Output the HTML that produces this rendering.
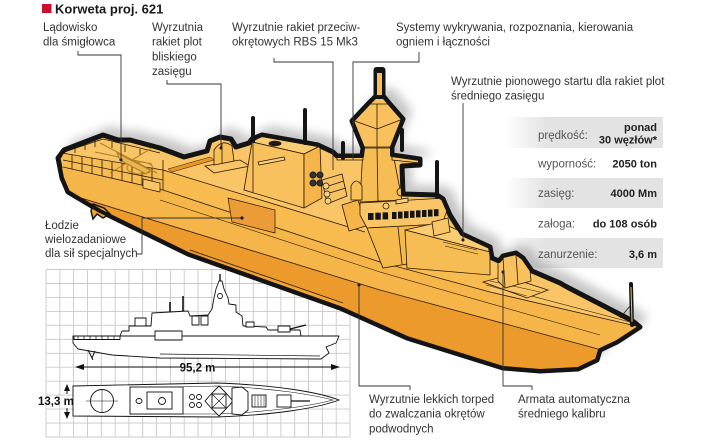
<!DOCTYPE html>
<html><head><meta charset="utf-8">
<style>
html,body{margin:0;padding:0;background:#fff;width:720px;height:445px;overflow:hidden}
svg{display:block}
</style></head>
<body>
<svg width="720" height="445" viewBox="0 0 720 445" xmlns="http://www.w3.org/2000/svg" font-family="'Liberation Sans', Arial, sans-serif">
<defs>
  <clipPath id="shipclip">
    <path id="silh" d="M58,158 L64,150 L103,135 L118,140 L130,140 L160,148 L184,157 L207,151 L210,141 L220,137 L231,139 L236,147 L249,143 L252,139 L262,135 L318,145 L333,152 L337,156 L362,156 L363,148 L352,121 L369,103 L375,97 L384,97 L389,103 L403,119 L392,147 L392,155 L420,159 L420,165 L402,166 L403,194 L437,195 L443,199 L450,215 L462,234 L490,247 L492,258 L499,261 L503,256 L516,253 L523,258 L532,271 L560,283 L567,287 L627,318 L634,322 L640,327 L617,342 L600,350 L597,360 L578,369 L540,371 L503,368 L407,338 L340,308 L188,254 L100,211 L68,192 L62,178 Z"/>
  </clipPath>
  <filter id="blur" x="-20%" y="-20%" width="140%" height="140%"><feGaussianBlur stdDeviation="5"/></filter>
  <linearGradient id="rg" gradientUnits="userSpaceOnUse" x1="506" y1="0" x2="546" y2="0">
    <stop offset="0" stop-color="#e3e3e3" stop-opacity="0"/>
    <stop offset="1" stop-color="#e3e3e3"/>
  </linearGradient>
</defs>

<rect width="720" height="445" fill="#fff"/>

<!-- Title -->
<rect x="42" y="4" width="9.5" height="9" fill="#c8102e"/>
<text x="55" y="13.5" font-size="13" font-weight="bold" fill="#1a1a1a">Korweta proj. 621</text>

<!-- Grid -->
<path fill="none" stroke="#c9c9c9" stroke-width="0.9" d="M46,269.5V437 M59.8,269.5V437 M73.6,269.5V437 M87.5,269.5V437 M101.3,269.5V437 M115.1,269.5V437 M128.9,269.5V437 M142.7,269.5V437 M156.5,269.5V437 M170.4,269.5V437 M184.2,269.5V437 M198,269.5V437 M211.8,269.5V437 M225.6,269.5V437 M239.5,269.5V437 M253.3,269.5V437 M267.1,269.5V437 M280.9,269.5V437 M294.7,269.5V437 M308.5,269.5V437 M322.4,269.5V437 M336.2,269.5V437 M350,269.5V437 M46,269.5H350 M46,283.5H350 M46,297.4H350 M46,311.4H350 M46,325.3H350 M46,339.3H350 M46,353.3H350 M46,367.2H350 M46,381.2H350 M46,395.1H350 M46,409.1H350 M46,423.1H350 M46,437H350"/>

<!-- Side view schematic -->
<g fill="#fff" stroke="#111" stroke-width="0.9" stroke-linejoin="round">
  <path d="M73,336 L339,336 L336,343 L326,347 L329,353 L321,359 L160,358 L112,355 L78,349 L73,343 Z"/>
  <path d="M120,336 L122,331 L129,331 L129,326 L151,326 L152,313 L188,311 L190,316 L208,315 L212,309 L214,298 L216,289 L219,281 L222,281 L224,289 L228,298 L229,304 L236,305 L236,312 L242,316 L243,326 L266,327 L268,330 L300,330 L301,336 Z"/>
  <rect x="74" y="336" width="46" height="3.5"/>
  <rect x="155" y="331" width="27" height="9"/>
  <rect x="135" y="318" width="11" height="8"/>
  <rect x="192" y="316" width="7" height="9"/>
  <rect x="201" y="316" width="7" height="9"/>
  <rect x="246" y="322" width="8" height="5"/>
  <rect x="278" y="326" width="12" height="6"/>
  <circle cx="220" cy="296" r="2.5"/>
</g>
<g stroke="#111" fill="none">
  <path d="M78,336V339.5 M84,336V339.5 M90,336V339.5 M96,336V339.5 M102,336V339.5 M108,336V339.5 M114,336V339.5" stroke-width="0.7"/>
  <path d="M160,354 L320,356" stroke-width="0.7"/>
  <path d="M220,274 V281" stroke-width="1.4"/>
  <path d="M183,296 V311 M170,302 V312" stroke-width="1.6"/>
  <path d="M290,329 L306,325" stroke-width="1.4"/>
  <path d="M88,350 L93,360 M95,351 L92,358" stroke-width="1"/>
</g>
<!-- dimensions -->
<g stroke="#111" stroke-width="1" fill="#111">
  <line x1="80" y1="367" x2="180" y2="367"/>
  <line x1="215" y1="367" x2="334" y2="367"/>
  <polygon points="75,367 84,364 84,370" stroke="none"/>
  <polygon points="340,367 331,364 331,370" stroke="none"/>
  <line x1="67" y1="389" x2="67" y2="394"/>
  <line x1="67" y1="408" x2="67" y2="413"/>
  <polygon points="67,384 64,391 70,391" stroke="none"/>
  <polygon points="67,419 64,412 70,412" stroke="none"/>
</g>
<text x="197.5" y="371.5" font-size="11.5" font-weight="bold" text-anchor="middle" fill="#111">95,2 m</text>
<text x="38" y="405" font-size="11.5" font-weight="bold" fill="#111">13,3 m</text>

<!-- Top view schematic -->
<g fill="#fff" stroke="#111" stroke-width="0.9">
  <path d="M73,386 L217,383 C275,385 318,392 339,400 C318,408 275,415 217,417 L73,416 Z"/>
  <path d="M130,388 L217,386 C270,388 310,394 333,400 C310,406 270,412 217,414 L130,414" fill="none" stroke-width="0.6"/>
  <circle cx="102" cy="401" r="11.5"/>
  <path d="M86,401 H118 M102,389 V413" stroke-width="0.5"/>
  <rect x="130" y="387" width="53" height="27"/>
  <rect x="147" y="392" width="25" height="17"/>
  <circle cx="162" cy="401" r="3.5"/>
  <ellipse cx="139" cy="401" rx="3" ry="2.5"/>
  <circle cx="192" cy="397" r="2.5"/><circle cx="192" cy="405" r="2.5"/>
  <circle cx="199" cy="397" r="2.5"/><circle cx="199" cy="405" r="2.5"/>
  <polygon points="219,386 226,393 233,401 226,409 219,416 212,409 205,401 212,393"/>
  <rect x="212" y="394" width="14" height="14"/>
  <path d="M212,394 L226,408 M226,394 L212,408" stroke-width="0.6"/>
  <polygon points="232,388 242,387 248,392 248,410 242,415 232,414"/>
  <rect x="252" y="395" width="14" height="12"/>
  <path d="M255,395V407 M258,395V407 M261,395V407 M264,395V407" stroke-width="0.5"/>
  <rect x="277" y="395" width="14" height="12"/>
  <path d="M291,401 H310" stroke-width="1.2"/>
</g>

<!-- Spec table backgrounds -->
<rect x="505" y="117" width="158" height="31" fill="url(#rg)"/>
<rect x="505" y="178" width="158" height="30" fill="url(#rg)"/>
<rect x="505" y="238" width="158" height="30" fill="url(#rg)"/>

<!-- Ship shadow -->
<use href="#silh" fill="#8c8c8c" opacity="0.5" transform="translate(9,-9)" filter="url(#blur)"/>

<!-- Ship body -->
<use href="#silh" fill="#f9c566" stroke="#141414" stroke-width="5" stroke-linejoin="round"/>
<g clip-path="url(#shipclip)">
  <path d="M40,163 L163,190 L380,262 L490,292 L636,326 L680,345 L680,420 L40,420 Z" fill="#f6b548"/>
  <path d="M40,186 L68,194 L380,290 L598,349 L680,360 L680,420 L40,420 Z" fill="#ec9a2b"/>
  <path d="M163,170 L365,232 L407,244 L490,268 L490,292 L380,262 L163,190 Z" fill="#f7bb4f"/>
  <path d="M183,250 L343,302 L345,312 L183,258 Z" fill="#f0a535"/>
  <path d="M62,153 L163,170 L163,190 L63,167 Z" fill="#f7bd55"/>
</g>
<g fill="none" stroke="#2a1800" stroke-width="0.8">
  <path d="M163,170 L365,232"/>
  <path d="M63,167 L163,190 L380,262 L490,292 L636,326"/>
  <path d="M68,194 L380,290 L598,349"/>
  <path d="M190,250 L343,303"/>
  <path d="M163,160 L163,190"/>
  <path d="M62,153 L163,170 M63,160 L163,180"/>
  <path d="M72,155 L72,169 M82,157 L82,171 M92,158 L92,174 M102,160 L102,176 M112,162 L112,178 M122,163 L122,181 M132,165 L132,183 M142,167 L142,185 M152,168 L152,188"/>
  <path d="M67,151 L103,139 L160,153"/>
  <path d="M75,147 L75,153 M85,143 L85,150 M95,140 L95,147 M112,142 L112,148 M125,145 L125,152 M140,149 L140,155"/>
  <path d="M490,285 L630,322" stroke-width="0.6"/>
  <path d="M160,200 L380,272 L600,335" stroke-width="0.6"/>
</g>
<!-- helicopter -->
<g stroke="#b07f22" stroke-width="1" fill="none">
  <path d="M100,143 L157,173 M110,173 L157,145 M95,152 L152,164"/>
  <ellipse cx="140" cy="168" rx="13" ry="6"/>
  <path d="M117,153 L150,170 L146,174 L120,160 Z" fill="#e8b552"/>
</g>
<!-- small box near helideck -->
<path d="M143,179 L160,183 L160,192 L143,188 Z" fill="#f9c566" stroke="#2a1800" stroke-width="0.7"/>
<!-- orange strip aft superstructure -->
<path d="M168,169 L210,157 L214,160 L172,172 Z" fill="#e8962a" stroke="#2a1800" stroke-width="0.5"/>
<!-- RAM launcher -->
<g stroke="#2a1800" stroke-width="0.8">
  <path d="M205,166 L240,160 L250,166 L214,173 Z" fill="#f9c566"/>
  <path d="M214,165 L214,150 Q222,138 232,146 L234,161 Z" fill="#f7bf58"/>
  <path d="M222,143 L222,163" fill="none"/>
</g>
<!-- Hangar block -->
<g stroke="#2a1800" stroke-width="0.8">
  <path d="M252,142 L262,136 L320,146 L304,154 Z" fill="#fbcd72"/>
  <path d="M252,142 L304,154 L304,208 L244,190 Z" fill="#f8c15e"/>
  <path d="M304,154 L320,146 L322,198 L304,208 Z" fill="#f5b54a"/>
  <ellipse cx="275" cy="143.5" rx="6" ry="2.3" fill="#1a1a1a"/>
  <path d="M258,162 L284,157 L285,160 L259,165 Z" fill="#fbd07a"/>
  <path d="M253,142 L253,192" fill="none"/>
</g>
<!-- RBS launchers -->
<g stroke="#1a1a1a" stroke-width="1">
  <circle cx="313" cy="175" r="3" fill="#333"/><circle cx="320" cy="175" r="3" fill="#333"/>
  <circle cx="313" cy="183" r="3" fill="#333"/><circle cx="320" cy="183" r="3" fill="#333"/>
  <path d="M322,180 L342,174 L347,196 L327,204 Z" fill="#f7c060" stroke-width="0.8"/>
  <path d="M325,187 L344,181 M326,194 L346,188" fill="none" stroke-width="0.7"/>
  <circle cx="326" cy="186" r="3" fill="#fbd07a" stroke-width="0.7"/>
  <circle cx="327" cy="194" r="3" fill="#fbd07a" stroke-width="0.7"/>
  <circle cx="328" cy="201" r="3" fill="#fbd07a" stroke-width="0.7"/>
</g>
<!-- Mast -->
<g stroke="#2a1800" stroke-width="0.8">
  <path d="M342,205 L358,200 L366,226 L349,231 Z" fill="#f5b54a"/>
  <path d="M363,148 L392,148 L402,200 L360,202 Z" fill="#f7bd55"/>
  <path d="M377,148 L378,201" fill="none"/>
  <path d="M352,120 L369,104 L375,97 L384,97 L389,104 L403,119 L392,147 L363,147 Z" fill="#f8c15e"/>
  <path d="M352,120 L377,129 L403,119 M377,104 L377,147 M369,104 L389,104" fill="none"/>
  <path d="M337,156 L363,156 L363,160 L337,160 Z" fill="#f9c566"/>
  <path d="M392,156 L420,159 L420,163 L392,160 Z" fill="#f9c566"/>
  <path d="M351,186 Q356,176 362,186 L362,200 L351,200 Z" fill="#f7bf58"/>
</g>
<rect x="373.5" y="67" width="12" height="32" rx="3" fill="#141414"/>
<rect x="377" y="73" width="5" height="24" fill="#f7bf58"/>
<!-- Bridge -->
<g stroke="#2a1800" stroke-width="0.8">
  <path d="M360,203 L445,198 L448,208 L442,224 L367,228 L360,215 Z" fill="#f9c566"/>
  <path d="M367,228 L442,224 L455,256 L383,268 Z" fill="#f6b94c"/>
  <path d="M398,227 L402,264" fill="none"/>
  <circle cx="386" cy="206" r="3" fill="#fbd07a"/>
  <path d="M396,200 L408,198 L408,202 L396,204 Z" fill="#fbd07a"/>
  <circle cx="401" cy="192" r="4" fill="#f7bf58"/>
</g>
<g fill="#141414">
  <rect x="368" y="213" width="5.5" height="7"/>
  <rect x="375.3" y="212.7" width="5.5" height="7"/>
  <rect x="382.6" y="212.4" width="5.5" height="7"/>
  <rect x="392" y="212" width="4.5" height="7"/>
  <rect x="398" y="211.6" width="4.5" height="7"/>
  <rect x="404" y="211.2" width="4.5" height="7"/>
  <rect x="410" y="210.8" width="4.5" height="7"/>
  <rect x="416" y="210.4" width="4.5" height="7"/>
  <rect x="422" y="210" width="4.5" height="7"/>
  <rect x="428" y="209.6" width="4.5" height="7"/>
  <rect x="434" y="209.2" width="4.5" height="7"/>
</g>
<!-- VLS block -->
<g stroke="#2a1800" stroke-width="0.8">
  <path d="M405,230 L440,222 L492,246 L490,252 Z" fill="#fbcd72"/>
  <path d="M405,230 L490,252 L490,275 L407,268 Z" fill="#f7bd55"/>
  <path d="M443,242 L477,250 M445,246 L478,254" fill="none" stroke-width="0.6"/>
  <path d="M432,222 L448,218 L450,232 L434,236 Z" fill="#f9c566"/>
</g>
<!-- Gun -->
<g stroke="#2a1800" stroke-width="0.8">
  <path d="M483,282 L505,276 L548,290 L527,298 Z" fill="#f9c566"/>
  <path d="M486,285 L527,296 M490,281 L540,292" fill="none" stroke-width="0.5"/>
  <path d="M498,262 L503,257 L516,254 L523,258 L530,270 L531,281 L505,288 L498,281 Z" fill="#f8c15e"/>
  <path d="M503,258 L505,287 M516,255 L518,284" fill="none"/>
</g>
<!-- Boat hatch -->
<path d="M228,198 L275,210 L275,233 L232,222 Z" fill="#eb9c36" stroke="#2a1800" stroke-width="0.7"/>
<!-- Rudder/propeller -->
<path d="M93,204 L104,208 L110,214 L103,218 L97,214 L93,219 L91,211 Z" fill="#f0a535" stroke="#141414" stroke-width="1.5"/>

<!-- outline redraw -->
<use href="#silh" fill="none" stroke="#141414" stroke-width="4" stroke-linejoin="round"/>

<!-- antenna sticks -->
<g stroke="#141414" stroke-width="4" stroke-linecap="round">
  <line x1="253" y1="118" x2="253" y2="141"/>
  <line x1="305" y1="110" x2="305" y2="143"/>
  <line x1="343" y1="143" x2="343" y2="158"/>
  <line x1="402" y1="130" x2="402" y2="150"/>
  <line x1="437" y1="162" x2="437" y2="197"/>
  <line x1="631" y1="284" x2="632" y2="325"/>
</g>
<g stroke="#f7bf58" stroke-width="1">
  <line x1="631" y1="287" x2="632" y2="322"/>
</g>
<line x1="620" y1="318" x2="630" y2="306" stroke="#2a1800" stroke-width="0.8"/>

<!-- Leader lines -->
<g fill="none" stroke="#333" stroke-width="0.9">
  <path d="M78,51 V55 H121 V160"/>
  <path d="M167,80 V84 H221 V148"/>
  <path d="M274,58 V62 H333 V170"/>
  <path d="M419,52 V62 H353 V160"/>
  <path d="M463,103 V240"/>
  <path d="M137,254 H142 V218 H242"/>
  <path d="M410,390 V386 H359 V285"/>
  <path d="M532,390 V386 H503 V272"/>
</g>
<g fill="#1a1a1a">
  <circle cx="121" cy="160" r="1.5"/>
  <circle cx="221" cy="148" r="1.5"/>
  <circle cx="242" cy="218" r="1.6"/>
  <circle cx="359" cy="285" r="1.5"/>
  <circle cx="503" cy="272" r="1.5"/>
  <circle cx="463" cy="240" r="1.5"/>
</g>

<!-- Labels -->
<g font-size="11.5" fill="#333">
  <text x="43" y="31">Lądowisko</text>
  <text x="43" y="45.7">dla śmigłowca</text>
  <text x="152" y="31">Wyrzutnia</text>
  <text x="152" y="45.7">rakiet plot</text>
  <text x="152" y="60.4">bliskiego</text>
  <text x="152" y="75">zasięgu</text>
  <text x="232" y="31">Wyrzutnie rakiet przeciw-</text>
  <text x="232" y="45.7">okrętowych RBS 15 Mk3</text>
  <text x="396" y="31">Systemy wykrywania, rozpoznania, kierowania</text>
  <text x="396" y="45.7">ogniem i łączności</text>
  <text x="451" y="85">Wyrzutnie pionowego startu dla rakiet plot</text>
  <text x="451" y="99.7">średniego zasięgu</text>
  <text x="45" y="229">Łodzie</text>
  <text x="45" y="243">wielozadaniowe</text>
  <text x="45" y="257">dla sił specjalnych</text>
  <text x="369" y="403">Wyrzutnie lekkich torped</text>
  <text x="369" y="417.7">do zwalczania okrętów</text>
  <text x="369" y="432.4">podwodnych</text>
  <text x="518" y="403">Armata automatyczna</text>
  <text x="518" y="417.7">średniego kalibru</text>
</g>

<!-- Table text -->
<g font-size="11.5" fill="#555">
  <text x="538" y="139">prędkość:</text>
  <text x="538" y="167.5">wyporność:</text>
  <text x="538" y="197">zasięg:</text>
  <text x="538" y="227.5">załoga:</text>
  <text x="538" y="258">zanurzenie:</text>
</g>
<g font-size="11" font-weight="bold" fill="#222" text-anchor="end">
  <text x="657" y="131">ponad</text>
  <text x="657" y="143.5">30 węzłów*</text>
  <text x="657" y="167.5">2050 ton</text>
  <text x="657" y="197">4000 Mm</text>
  <text x="657" y="227.5">do 108 osób</text>
  <text x="657" y="258">3,6 m</text>
</g>
</svg>
</body></html>
